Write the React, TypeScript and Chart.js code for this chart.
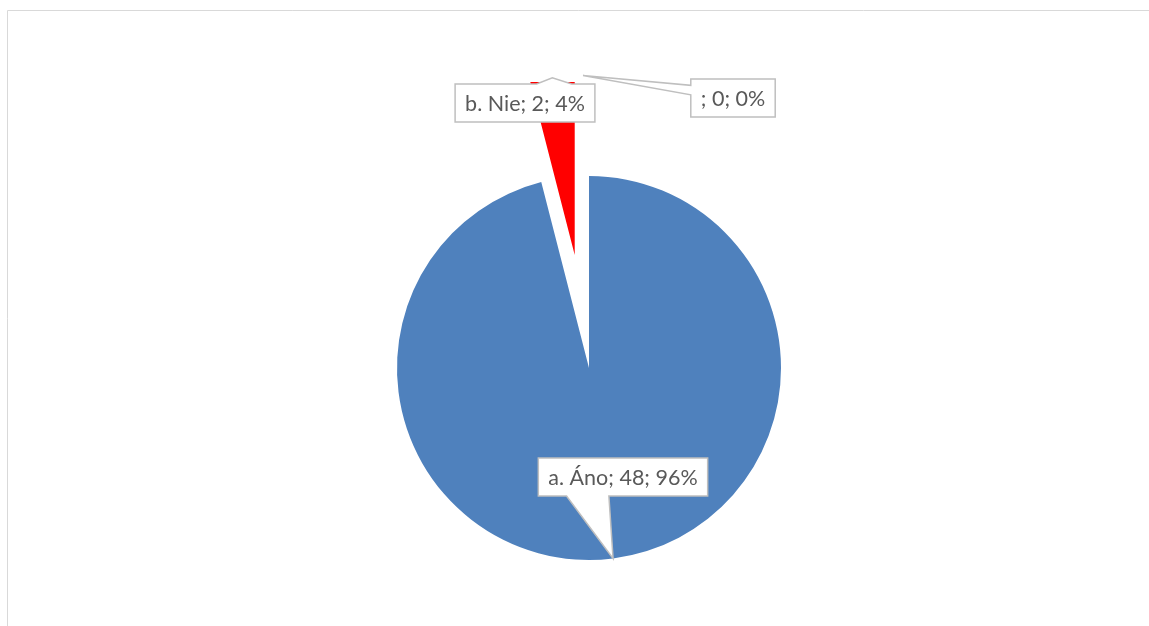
import React, { useEffect, useRef } from 'react';
import { Chart, PieController, registerables } from 'chart.js';

const categories = ['a. Áno', 'b. Nie', ''];
const values = [48, 2, 0];
const sliceColors = ['#4f81bd', '#ff0000', '#9bbb59'];
// explosion distance of each slice (px)
const explode = [0, 114, 114];
// label box centre offsets from pie centre, and tail tip radius factor
const labelOffsets = [
  [34, 109],
  [-64, -265],
  [144, -270],
];
const tipRadius = [1.0, 0.93, 0.93];

class ExplodedPieController extends PieController {
  static id = 'explodedPie';
  static defaults = PieController.defaults;
  static overrides = PieController.overrides;
  draw() {
    const chart: any = this.chart;
    const ctx = chart.ctx;
    const meta = this.getMeta();
    meta.data.forEach((el: any, i: number) => {
      const d = explode[i] || 0;
      const mid = (el.startAngle + el.endAngle) / 2;
      ctx.save();
      if (d) {
        ctx.beginPath();
        ctx.rect(0, el.y - el.outerRadius * 1.49, chart.width, chart.height);
        ctx.clip();
        ctx.translate(Math.cos(mid) * d, Math.sin(mid) * d);
      }
      el.draw(ctx, chart.chartArea);
      ctx.restore();
    });
  }
}

Chart.register(...registerables, ExplodedPieController as any);

const framePlugin = {
  id: 'frame',
  beforeDraw(chart: any) {
    const ctx = chart.ctx;
    ctx.save();
    ctx.strokeStyle = '#d9d9d9';
    ctx.lineWidth = 1;
    ctx.beginPath();
    ctx.moveTo(7.5, chart.height);
    ctx.lineTo(7.5, 10.5);
    ctx.lineTo(chart.width, 10.5);
    ctx.stroke();
    ctx.restore();
  },
};

const calloutPlugin = {
  id: 'callouts',
  afterDatasetsDraw(chart: any) {
    const ctx = chart.ctx;
    const meta = chart.getDatasetMeta(0);
    const total = values.reduce((a, b) => a + b, 0);
    ctx.save();
    ctx.font = '21.5px Lato';
    ctx.textAlign = 'center';
    ctx.textBaseline = 'middle';
    meta.data.forEach((el: any, i: number) => {
      const mid = (el.startAngle + el.endAngle) / 2;
      const d = explode[i] || 0;
      const r = el.outerRadius * tipRadius[i];
      const tx = el.x + Math.cos(mid) * (d + r) - (i === 2 ? 6 : 0);
      const ty = el.y + Math.sin(mid) * (d + r);
      const text = `${categories[i]}; ${values[i]}; ${Math.round((values[i] / total) * 100)}%`;
      const tw = ctx.measureText(text).width;
      const w = tw + 20;
      const h = 38;
      const cx = el.x + labelOffsets[i][0];
      const cy = el.y + labelOffsets[i][1];
      const l = cx - w / 2, t = cy - h / 2, rr = cx + w / 2, b = cy + h / 2;
      const dx = tx - cx, dy = ty - cy;
      const dz = Math.abs(dy) - Math.abs((dx * h) / w);
      const pts: number[][] = [];
      if (dz > 0) {
        const x1 = l + (w * (dx > 0 ? 7 : 2)) / 12;
        const x2 = l + (w * (dx > 0 ? 10 : 5)) / 12;
        if (dy < 0) {
          pts.push([l, t], [x1, t], [tx, ty], [x2, t], [rr, t], [rr, b], [l, b]);
        } else {
          pts.push([l, t], [rr, t], [rr, b], [x2, b], [tx, ty], [x1, b], [l, b]);
        }
      } else {
        const y1 = t + (h * (dy > 0 ? 7 : 2)) / 12;
        const y2 = t + (h * (dy > 0 ? 10 : 5)) / 12;
        if (dx < 0) {
          pts.push([l, t], [rr, t], [rr, b], [l, b], [l, y2], [tx, ty], [l, y1]);
        } else {
          pts.push([l, t], [rr, t], [rr, y1], [tx, ty], [rr, y2], [rr, b], [l, b]);
        }
      }
      ctx.beginPath();
      pts.forEach((p, k) => (k ? ctx.lineTo(p[0], p[1]) : ctx.moveTo(p[0], p[1])));
      ctx.closePath();
      ctx.fillStyle = '#ffffff';
      ctx.fill();
      ctx.strokeStyle = '#bfbfbf';
      ctx.lineWidth = 1.5;
      ctx.stroke();
      ctx.fillStyle = '#595959';
      ctx.fillText(text, cx, cy + 1);
    });
    ctx.restore();
  },
};

export default function App() {
  const ref = useRef<HTMLCanvasElement>(null);
  useEffect(() => {
    if (!ref.current) return;
    const chart = new Chart(ref.current, {
      type: 'explodedPie' as any,
      data: {
        labels: categories,
        datasets: [
          {
            data: values,
            backgroundColor: sliceColors,
            borderWidth: 0,
          },
        ],
      },
      options: {
        responsive: false,
        animation: false,
        radius: 192,
        layout: { padding: { left: 29, right: 0, top: 110, bottom: 0 } },
        plugins: { legend: { display: false }, tooltip: { enabled: false } },
      } as any,
      plugins: [framePlugin, calloutPlugin],
    });
    return () => chart.destroy();
  }, []);
  return (
    <div style={{ position: 'absolute', left: 0, top: 0, width: 1149, height: 626, background: '#fff' }}>
      <canvas ref={ref} width={1149} height={626} style={{ width: 1149, height: 626 }} />
    </div>
  );
}
